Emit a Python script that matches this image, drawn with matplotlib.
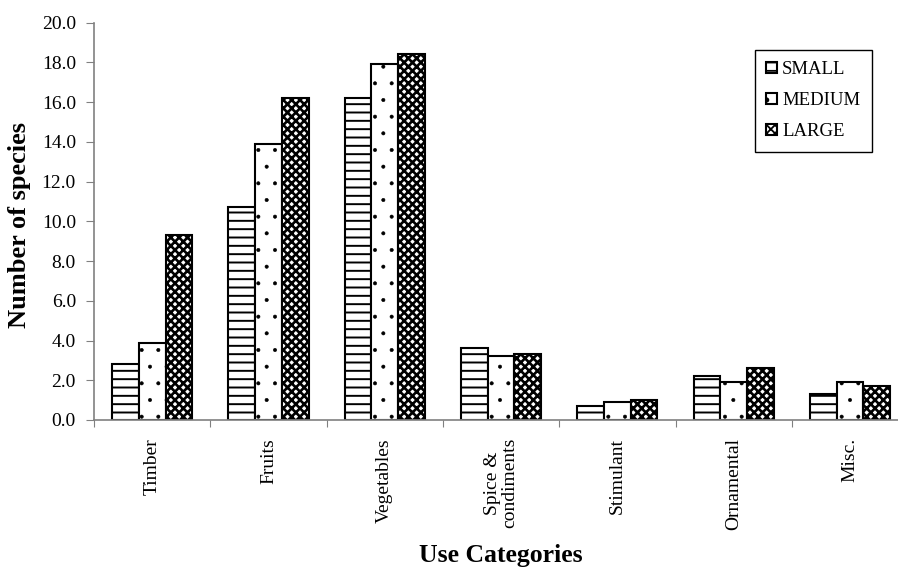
import matplotlib
matplotlib.use("Agg")
import matplotlib.pyplot as plt
import numpy as np

plt.rcParams['font.family'] = ['Liberation Serif', 'DejaVu Serif']
plt.rcParams['hatch.linewidth'] = 1.3

categories = ["Timber", "Fruits", "Vegetables", "Spice &\ncondiments",
              "Stimulant", "Ornamental", "Misc."]
small = [2.8, 10.7, 16.2, 3.6, 0.7, 2.2, 1.3]
medium = [3.9, 13.9, 17.9, 3.2, 0.9, 1.9, 1.9]
large = [9.3, 16.2, 18.4, 3.3, 1.0, 2.6, 1.7]
series_names = ["SMALL", "MEDIUM", "LARGE"]

W, H = 898, 568
fig = plt.figure(figsize=(W / 100, H / 100), dpi=100)
ax = fig.add_axes([94 / W, 1 - 420 / H, 7 * 116.3 / W, (420 - 22.7) / H])

x = np.arange(len(categories))
bw = 0.23
hatches = ["--", ".", "xxxx"]
hatch_lw = [1.4, 0.4, 1.9]
for i, (vals, name) in enumerate(zip([small, medium, large], series_names)):
    bars = ax.bar(x + (i - 1) * bw, vals, bw, facecolor="white",
                  edgecolor="black", hatch=hatches[i], linewidth=1.5,
                  label=name)
    for b in bars:
        if hasattr(b, "set_hatch_linewidth"):
            b.set_hatch_linewidth(hatch_lw[i])

ax.set_xlim(-0.5, 6.5)
ax.set_ylim(0, 20)
ax.set_yticks(np.arange(0, 21, 2))
ax.set_yticklabels([f"{v:.1f}" for v in np.arange(0, 21, 2)], fontsize=14)

# ticks between categories, labels at centres
ax.set_xticks(np.arange(-0.5, 7, 1))
ax.set_xticklabels([])
ax.set_xticks(x, minor=True)
ax.set_xticklabels(categories, minor=True, rotation=90, fontsize=14,
                   linespacing=1.0)
ax.tick_params(axis="x", which="minor", length=0, pad=13)
ax.tick_params(axis="x", which="major", length=5, color="#808080", direction="out")
ax.tick_params(axis="y", length=6, color="#808080", pad=7)

for s in ["top", "right"]:
    ax.spines[s].set_visible(False)
for s in ["left", "bottom"]:
    ax.spines[s].set_color("#808080")
    ax.spines[s].set_linewidth(1.2)

fig.text(20 / W, 1 - 225 / H, "Number of species", rotation=90, ha="center",
         va="center", fontsize=19, fontweight="bold")
fig.text(501 / W, 1 - 562 / H, "Use Categories", ha="center", va="baseline",
         fontsize=18.5, fontweight="bold")

leg = ax.legend(loc="upper left", bbox_to_anchor=(755 / W, 1 - 50 / H),
                bbox_transform=fig.transFigure, borderaxespad=0,
                fontsize=13.5, handlelength=0.55, handleheight=0.55,
                handletextpad=0.3, labelspacing=0.75, fancybox=False,
                edgecolor="black", framealpha=1, borderpad=0.6)
leg.get_frame().set_linewidth(1.0)

fig.savefig("out.png", dpi=100)
